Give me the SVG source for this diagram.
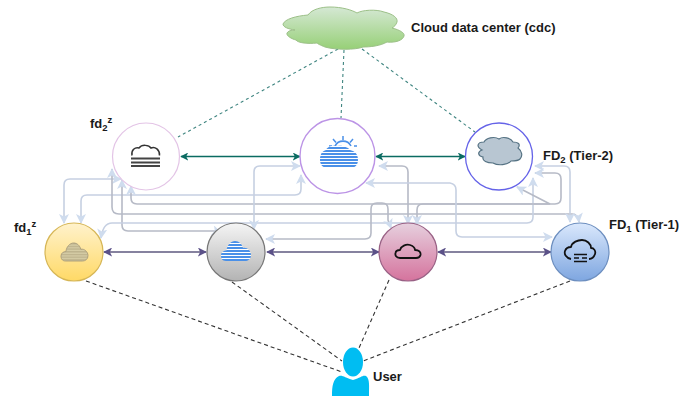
<svg xmlns="http://www.w3.org/2000/svg" width="697" height="396" viewBox="0 0 697 396">
<style>
text{font-family:"Liberation Sans",Arial,sans-serif;font-size:13px;font-weight:bold;fill:#1a1a1a}
.s{font-size:9.500px}
.g{fill:none;stroke:#b6bac6;stroke-width:1.6;marker-start:url(#la);marker-end:url(#la)}
.l{fill:none;stroke:#c6d0e2;stroke-width:1.6;marker-start:url(#la);marker-end:url(#la)}
.t{fill:none;stroke:#0b6b62;stroke-width:1.4;marker-start:url(#ta);marker-end:url(#ta)}
.p{fill:none;stroke:#86829f;stroke-width:2;marker-start:url(#pa);marker-end:url(#pa)}
.dt{fill:none;stroke:#3f8580;stroke-width:1.1;stroke-dasharray:3 3}
.dk{fill:none;stroke:#333;stroke-width:1.1;stroke-dasharray:4 3}
.c{stroke-width:1.2}
.o{fill:none;stroke:#111;stroke-width:1.8;stroke-linejoin:round}
</style>
<defs>
<marker id="la" viewBox="0 0 10 10" refX="9" refY="5" markerWidth="10" markerHeight="10" orient="auto-start-reverse" markerUnits="userSpaceOnUse"><path d="M0,0L10,5L0,10L2.500,5Z" fill="#cfdcee"/></marker>
<marker id="ta" viewBox="0 0 10 10" refX="9" refY="5" markerWidth="8" markerHeight="8" orient="auto-start-reverse" markerUnits="userSpaceOnUse"><path d="M0,0L10,5L0,10L2.500,5Z" fill="#0b6b62"/></marker>
<marker id="pa" viewBox="0 0 10 10" refX="9" refY="5" markerWidth="9" markerHeight="9" orient="auto-start-reverse" markerUnits="userSpaceOnUse"><path d="M0,0L10,5L0,10L2.500,5Z" fill="#5b5188"/></marker>
<linearGradient id="gy" x1="0" y1="0" x2="0" y2="1"><stop offset="0" stop-color="#fff2cc"/><stop offset="1" stop-color="#ffd966"/></linearGradient>
<linearGradient id="gg" x1="0" y1="0" x2="0" y2="1"><stop offset="0" stop-color="#f5f5f5"/><stop offset="1" stop-color="#b3b3b3"/></linearGradient>
<linearGradient id="gp" x1="0" y1="0" x2="0" y2="1"><stop offset="0" stop-color="#e6d0de"/><stop offset="1" stop-color="#d5739d"/></linearGradient>
<linearGradient id="gb" x1="0" y1="0" x2="0" y2="1"><stop offset="0" stop-color="#dae8fc"/><stop offset="1" stop-color="#7ea6e0"/></linearGradient>
<linearGradient id="gc" x1="0" y1="0" x2="0" y2="1"><stop offset="0" stop-color="#d5e8d4"/><stop offset="1" stop-color="#97d077"/></linearGradient>
<pattern id="sb" width="4" height="3" patternUnits="userSpaceOnUse"><rect width="4" height="3" fill="#fff"/><rect width="4" height="2" fill="#4a90e8"/></pattern>
<pattern id="st" width="4" height="3" patternUnits="userSpaceOnUse"><rect width="4" height="3" fill="#d8cfa8"/><rect width="4" height="1.600" fill="#bdb28c"/></pattern>
<path id="sc" d="M5,20C1,20 0,17 0,14.500C0,11 3,9.500 5.500,9.500C6,4 10,0 14,0C18,0 21,3 22,7C26,6 30,10 30,14C30,18 27,20 24,20Z"/>
</defs>

<g id="connectors">
<path class="dt" d="M338,49L178,137"/>
<path class="dt" d="M344,50L341,118"/>
<path class="dt" d="M362,49L475,132"/>
<path class="dk" d="M86,281L342,372"/>
<path class="dk" d="M232,282L342,361"/>
<path class="dk" d="M389,280L359,348"/>
<path class="dk" d="M570,281L363,361"/>
<path class="t" d="M181,156.500H300"/>
<path class="t" d="M376,156.500H465"/>
<path class="p" d="M104,252H206"/>
<path class="p" d="M267,252H379"/>
<path class="p" d="M438,252H551"/>
<path class="l" d="M64,223V185Q64,179 70,179H121"/>
<path class="l" d="M81,223V201Q81,195 87,195H295Q301,195 301,189V175"/>
<path class="g" d="M131,186V198Q131,204 137,204H555Q561,204 561,198V179Q561,173 555,173H535"/>
<path class="g" d="M112,169V207Q112,214 119,214H572Q578,214 579,222"/>
<path class="g" d="M122,180V225Q122,231 128,231H215L221,233"/>
<path class="l" d="M101,238Q103,223 112,223H527Q533,223 533,217V178"/>
<path class="l" d="M254,229V172Q254,166 260,166H300"/>
<path class="g" d="M408,224V172Q408,166 402,166H379"/>
<path class="g" d="M417,224V210Q417,204 423,204H550L517,187"/>
<path class="g" d="M266,239H365Q371,239 371,233V209Q371,203 377,203H382Q388,203 388,209V220L391,228"/>
<path class="l" d="M366,183H450Q456,184 456,190V231Q456,237 462,237H552"/>
<path class="l" d="M535,166H564Q570,166 570,172V222"/>
</g>

<g id="cdc">
<path d="M283,24C285,19 296,16 308,15C312,9 322,7 330,7C342,7 352,10 357,13C362,10 376,9 384,12C393,14 398,18 397,22C396,25 394,27 392,28C400,30 405,33 404,36C403,40 396,43 387,42C380,46 370,47 363,47C356,50 335,50 325,47C320,45 318,44 317,43C308,44 298,43 296,40C292,39 286,36 287,33C288,31 291,30 295,30C288,29 283,27 283,24Z" fill="url(#gc)" stroke="#9cc088" stroke-width="1"/>
<text x="411" y="32">Cloud data center (cdc)</text>
</g>

<g id="fd2z">
<circle cx="146" cy="156.500" r="33.500" fill="#fff" stroke="#e3c4e6" stroke-width="1.200"/>
<path d="M132,155.500C131,150 135,147 139,148C142,144 149,145 151,148C155,146 160,150 159.500,155.500" fill="none" stroke="#333" stroke-width="1.500"/>
<path d="M131,158.500H160M131,162.500H160M131,166H160" stroke="#444" stroke-width="1.800"/>
<text x="90" y="128">fd<tspan class="s" dy="3">2</tspan><tspan class="s" dy="-8">z</tspan></text>
</g>

<g id="sun">
<circle cx="337.500" cy="156" r="37.500" fill="#fff" stroke="#bc94e6" stroke-width="1.400"/>
<path d="M335,146A9,9 0 0 1 351,146" fill="none" stroke="#4a90e8" stroke-width="1.600"/>
<path d="M343,136V140M333,139L336,142.500M353,139L350,142.500M329,146H332M354,146H357" stroke="#4a90e8" stroke-width="1.500"/>
<path d="M320,160C320,153 323,151 326,150C327,146 334,145 338,146C342,145 349,148 350,150C354,151 358,153 358,160C358,165 355,168 350,168H328C323,168 320,165 320,160Z" fill="url(#sb)"/>
</g>

<g id="fd2">
<circle cx="499" cy="156.500" r="33.500" fill="#fff" stroke="#6563e8" stroke-width="1.300"/>
<path d="M482,150C476,147 477,142 484,142C486,138 494,136 499,139C503,136 511,138 513,142C518,142 521,144 518,148C522,151 523,156 520,159C518,161 513,161 511,161C508,165 498,166 493,163C487,163 482,161 483,157C478,156 477,152 482,150Z" fill="#b8c6d2" stroke="#567384" stroke-width="1.200"/>
<text x="543" y="160">FD<tspan class="s" dy="3">2</tspan><tspan dy="-3"> (Tier-2)</tspan></text>
</g>

<g id="fd1z">
<circle cx="74" cy="252" r="29" fill="url(#gy)" stroke="#d6b656" class="c"/>
<use href="#sc" transform="translate(61,243) scale(.9,.9)" fill="url(#st)" stroke="#a89c7c" stroke-width="1"/>
<text x="14" y="232">fd<tspan class="s" dy="3">1</tspan><tspan class="s" dy="-8">z</tspan></text>
</g>

<g id="grey">
<circle cx="236" cy="252" r="29" fill="url(#gg)" stroke="#777" class="c"/>
<use href="#sc" transform="translate(221,241)" fill="url(#sb)"/>
</g>

<g id="pink">
<circle cx="408" cy="252" r="29" fill="url(#gp)" stroke="#996185" class="c"/>
<path class="o" d="M400,258C396,258 395,255 395.500,253C396,250 398,250 400,250C401,246 406,244 410,245C413,246 415,248 415,250C419,250 421,252 420.500,255C420,257 418,258 416,258Z"/>
</g>

<g id="fd1">
<circle cx="580" cy="252" r="29" fill="url(#gb)" stroke="#6c8ebf" class="c"/>
<path class="o" d="M571,259C566,258 564,254 565,251C566,248 569,247 571,247C572,242 578,240 582,240C587,240 591,244 591,248C594,248 596,251 595,254C594,257 592,259 589,259"/>
<path d="M574,254.500H587M574,258H579M582,258H587M574,261.500H587" stroke="#111" stroke-width="1.500"/>
<text x="609" y="229">FD<tspan class="s" dy="3">1</tspan><tspan dy="-3"> (Tier-1)</tspan></text>
</g>

<g id="user">
<ellipse cx="353" cy="362" rx="10" ry="14.500" fill="#00bdf2"/>
<path d="M332,396C332,386 333,379 339,376C343,375 345,378 353,380C361,378 362,375 366,376C370,379 369,386 369,396Z" fill="#00bdf2"/>
<text x="373" y="381">User</text>
</g>
</svg>
